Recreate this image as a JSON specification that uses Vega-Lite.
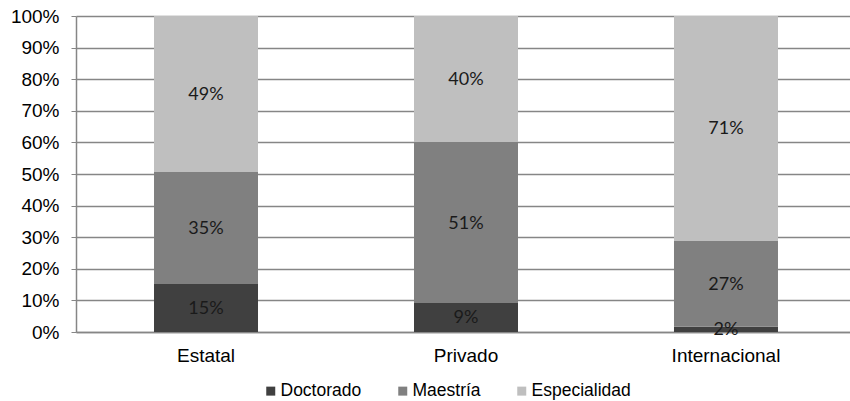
{
  "$schema": "https://vega.github.io/schema/vega-lite/v6.json",
  "autosize": {"type": "none"},
  "padding": {"left": 76, "top": 16, "right": 0, "bottom": 69},
  "width": 774,
  "height": 316,
  "background": "white",
  "config": {
    "view": {"stroke": null},
    "font": "Liberation Sans",
    "axisY": {
      "format": ".0%",
      "values": [0, 0.1, 0.2, 0.3, 0.4, 0.5, 0.6, 0.7, 0.8, 0.9, 1],
      "labelOverlap": false,
      "labelFontSize": 19,
      "labelColor": "#000000",
      "labelPadding": 12,
      "tickSize": 5,
      "tickColor": "#868686",
      "domainColor": "#868686",
      "domainWidth": 1.5,
      "gridColor": "#868686",
      "gridWidth": 1.5,
      "grid": true,
      "title": null
    }
  },
  "data": {
    "values": [
      {"sector": "Estatal", "nivel": "Doctorado", "share": 0.152},
      {"sector": "Estatal", "nivel": "Maestría", "share": 0.354},
      {"sector": "Estatal", "nivel": "Especialidad", "share": 0.494},
      {"sector": "Privado", "nivel": "Doctorado", "share": 0.092},
      {"sector": "Privado", "nivel": "Maestría", "share": 0.509},
      {"sector": "Privado", "nivel": "Especialidad", "share": 0.399},
      {"sector": "Internacional", "nivel": "Doctorado", "share": 0.017},
      {"sector": "Internacional", "nivel": "Maestría", "share": 0.271},
      {"sector": "Internacional", "nivel": "Especialidad", "share": 0.712}
    ]
  },
  "transform": [
    {"calculate": "indexof(['Doctorado','Maestría','Especialidad'], datum.nivel)", "as": "rank"},
    {"stack": "share", "groupby": ["sector"], "sort": [{"field": "rank", "order": "ascending"}], "offset": "normalize", "as": ["y0", "y1"]},
    {"calculate": "(datum.y0 + datum.y1) / 2", "as": "ymid"}
  ],
  "encoding": {
    "x": {
      "field": "sector",
      "type": "nominal",
      "sort": ["Estatal", "Privado", "Internacional"],
      "scale": {"paddingInner": 0.6, "paddingOuter": 0.2885, "align": 0.52},
      "axis": {
        "title": null,
        "labelAngle": 0,
        "labelFontSize": 19,
        "labelColor": "#000000",
        "labelPadding": 14,
        "ticks": false,
        "domainColor": "#868686",
        "domainWidth": 1.5
      }
    }
  },
  "layer": [
    {
      "mark": {"type": "bar"},
      "encoding": {
        "y": {
          "field": "y0",
          "type": "quantitative",
          "scale": {"domain": [0, 1], "nice": false},
          "axis": {"tickCount": 10}
        },
        "y2": {"field": "y1"},
        "color": {
          "field": "nivel",
          "type": "nominal",
          "scale": {
            "domain": ["Doctorado", "Maestría", "Especialidad"],
            "range": ["#404040", "#808080", "#bfbfbf"]
          },
          "legend": {
            "title": null,
            "orient": "none",
            "legendX": 186,
            "legendY": 366,
            "direction": "horizontal",
            "symbolType": "square",
            "symbolSize": 81,
            "symbolStrokeWidth": 0,
            "labelFontSize": 17.5,
            "labelColor": "#000000",
            "labelOffset": 1,
            "columnPadding": 32,
            "padding": 0
          }
        }
      }
    },
    {
      "mark": {"type": "text", "font": "Lato", "fontSize": 18, "color": "#1a1a1a", "baseline": "middle", "dy": 1},
      "encoding": {
        "y": {"field": "ymid", "type": "quantitative", "axis": {"tickCount": 10}},
        "text": {"field": "share", "type": "quantitative", "format": ".0%"}
      }
    }
  ]
}
